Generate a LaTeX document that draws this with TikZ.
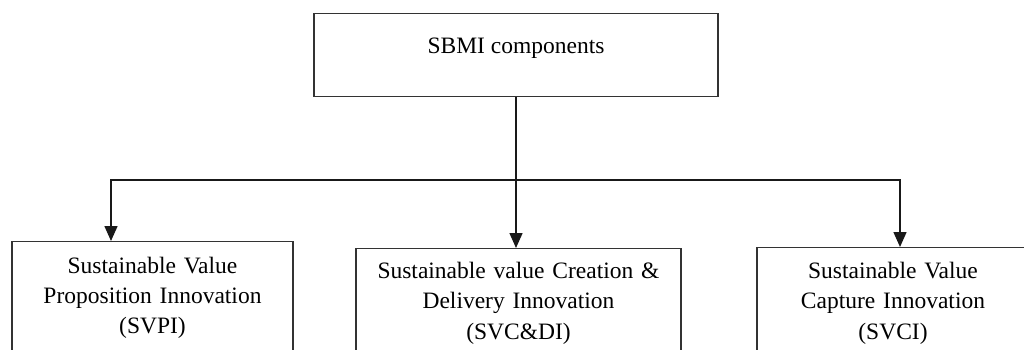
\documentclass[tikz,border=0pt]{standalone}
\usepackage{fontspec}
\setmainfont{Liberation Serif}
\usetikzlibrary{arrows.meta}
\begin{document}
\begin{tikzpicture}[x=1pt,y=-1pt,
  txt/.style={font=\fontsize{23.5}{30.3}\selectfont},
  box/.style={txt, draw=black!80, line width=1.3pt, inner sep=0pt, align=center, anchor=north},
  link/.style={line width=1.5pt, draw=black!90},
  arr/.style={link, -{Triangle[width=13pt,length=15pt]}}]
\useasboundingbox (0,0) rectangle (1024,349);
\clip (0,0) rectangle (1024,349);

% root box and its caption
\node[box, minimum width=404pt, minimum height=83pt] (top) at (516,13) {};
\node[txt, anchor=base, inner sep=0pt] (toptext) at (516,53) {SBMI components};

% the three components
\node[box, text width=281pt, minimum height=112pt] (svpi) at (152.5,241)
  {Sustainable Value\\Proposition Innovation\\(SVPI)};
\node[box, text width=325pt, minimum height=109pt] (svcdi) at (518.5,248)
  {Sustainable value Creation \&\\Delivery Innovation\\(SVC\&DI)};
\node[box, text width=272pt, minimum height=111pt] (svci) at (893,247)
  {Sustainable Value\\Capture Innovation\\(SVCI)};

% connectors
\coordinate (fork) at (516,180);
\coordinate (xl) at (111,0);
\coordinate (xm) at (516,0);
\coordinate (xr) at (900,0);
\draw[link] (top.south -| xm) -- (fork);
\draw[arr] (fork) -| (svpi.north -| xl);
\draw[arr] (fork) -| (svci.north -| xr);
\draw[arr] (fork) -- (svcdi.north -| xm);
\end{tikzpicture}
\end{document}
